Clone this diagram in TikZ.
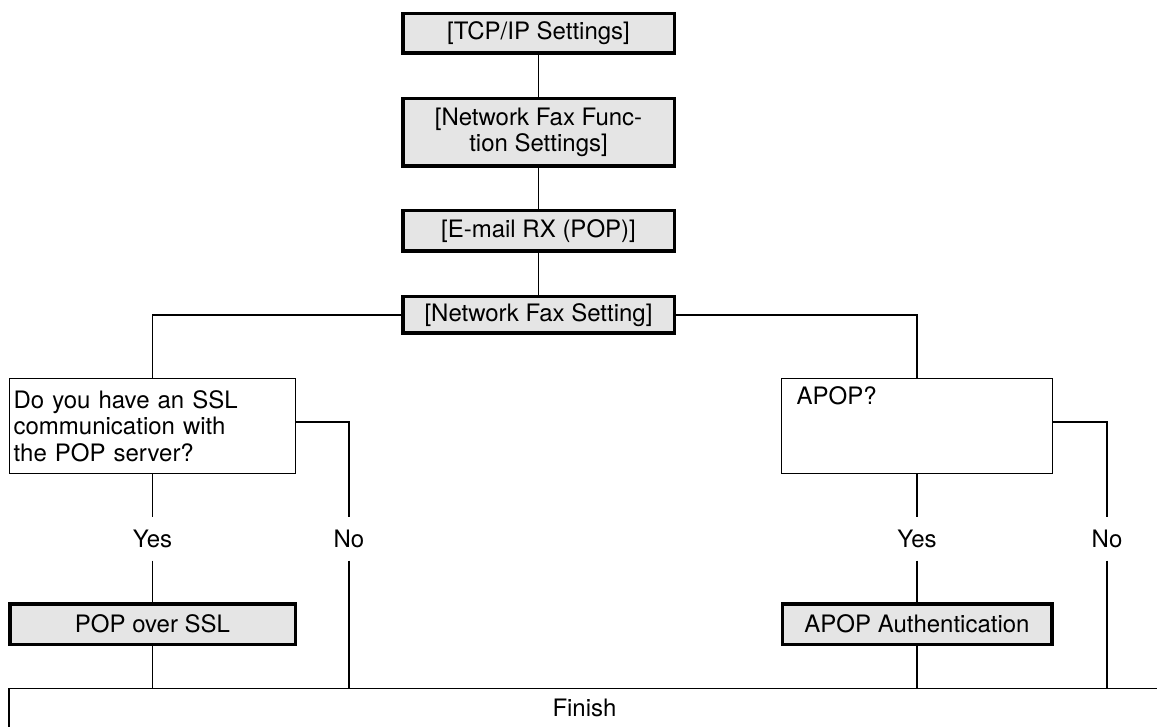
\documentclass[tikz,border=0pt]{standalone}
\usepackage{fontspec}
\setmainfont{TeX Gyre Heros}
\begin{document}
\begin{tikzpicture}[x=1pt,y=-1pt,
  every node/.style={font=\fontsize{24}{26.5}\selectfont},
  graybox/.style={draw=black, line width=3.5pt, fill=boxgray, inner sep=0pt, align=center},
  qbox/.style={draw=black, line width=1.3pt, fill=white, inner ysep=0pt, align=left},
  lbl/.style={inner sep=0pt, minimum height=43pt},
  conn/.style={draw=black, line width=1.2pt}
]
\definecolor{boxgray}{HTML}{E5E5E5}
\clip (0,0) rectangle (1157,727);
\fill[white] (0,0) rectangle (1157,727);

% main column
\node[graybox, minimum width=271.5pt, minimum height=39.5pt] (tcp) at (538.5,33.5) {[TCP/IP Settings]};
\node[graybox, minimum width=271.5pt, minimum height=67.5pt] (nff) at (538.5,132.5) {[Network Fax Func-\\tion Settings]};
\node[graybox, minimum width=271.5pt, minimum height=40.5pt] (email) at (538.5,231) {[E-mail RX (POP)]};
\node[graybox, minimum width=271.5pt, minimum height=36.5pt] (nfs) at (538.5,315) {[Network Fax Setting]};

% questions
\node[qbox, inner xsep=4pt, text width=277.7pt, minimum height=94.7pt] (ssl) at (152.5,426) {Do you have an SSL\\communication with\\the POP server?};
\node[qbox, inner xsep=15pt, text width=240.7pt, minimum height=94.7pt] (apop) at (917,426) {APOP?\\\strut\\\strut};

% labels
\node[lbl] (yesL) at (152.5,539) {Yes};
\node[lbl] (noL) at (349,539) {No};
\node[lbl] (yesR) at (917,539) {Yes};
\node[lbl] (noR) at (1107,539) {No};

% actions
\node[graybox, minimum width=285.5pt, minimum height=40.5pt] (pop) at (152.5,624) {POP over SSL};
\node[graybox, minimum width=269.5pt, minimum height=40.5pt] (apa) at (917,624) {APOP Authentication};

% finish
\node[draw=black, line width=1.3pt, fill=white, anchor=north, inner ysep=0pt,
      minimum width=1151pt, text height=27.5pt, text depth=50pt] (finish) at (584.5,688) {Finish};

% connectors
\draw[conn] (tcp.south) -- (nff.north);
\draw[conn] (nff.south) -- (email.north);
\draw[conn] (email.south) -- (nfs.north);
\draw[conn] (nfs.west) -| (ssl.north);
\draw[conn] (nfs.east) -| (apop.north);

\draw[conn] (ssl.south) -- (yesL.north);
\draw[conn] (yesL.south) -- (pop.north);
\draw[conn] (pop.south) -- (pop.south |- finish.north);
\draw[conn] ([yshift=4pt]ssl.east) -| (noL.north);
\draw[conn] (noL.south) -- (noL.south |- finish.north);

\draw[conn] (apop.south) -- (yesR.north);
\draw[conn] (yesR.south) -- (apa.north);
\draw[conn] (apa.south) -- (apa.south |- finish.north);
\draw[conn] ([yshift=4pt]apop.east) -| (noR.north);
\draw[conn] (noR.south) -- (noR.south |- finish.north);
\end{tikzpicture}
\end{document}
